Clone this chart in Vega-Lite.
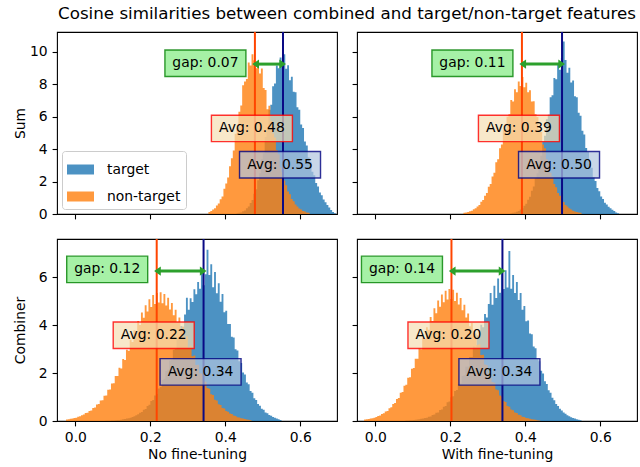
{
"$schema": "https://vega.github.io/schema/vega-lite/v6.json",
"padding": {"left": 12, "top": 5, "right": 0, "bottom": 5},
"config": {
 "font": "DejaVu Sans",
 "view": {"stroke": "#000000", "strokeWidth": 1.1},
 "axis": {"grid": false, "domain": false, "tickColor": "#000000", "tickSize": 4.9, "tickWidth": 1.1, "labelFontSize": 13.9, "labelColor": "#000000", "labelPadding": 4.9, "titleFontSize": 13.9, "titleFontWeight": "normal", "titleColor": "#000000", "titlePadding": 2, "labelFont": "DejaVu Sans", "titleFont": "DejaVu Sans", "labelOverlap": false, "labelBound": false, "labelFlush": false},
 "axisX": {"titlePadding": 3},
 "axisY": {"minExtent": 28},
 "text": {"font": "DejaVu Sans", "fontSize": 13.9, "color": "#000000"}
},
"title": {"text": "Cosine similarities between combined and target/non-target features", "fontSize": 16.7, "fontWeight": "normal", "font": "DejaVu Sans", "color": "#000000", "anchor": "middle", "frame": "bounds", "dx": 22, "offset": 8},
"datasets": {
"ann": [
 {"p":"tl","mn":0.479,"mt":0.554,"gap":"gap: 0.07","an":"Avg: 0.48","at":"Avg: 0.55"},
 {"p":"tr","mn":0.391,"mt":0.498,"gap":"gap: 0.11","an":"Avg: 0.39","at":"Avg: 0.50"},
 {"p":"bl","mn":0.217,"mt":0.342,"gap":"gap: 0.12","an":"Avg: 0.22","at":"Avg: 0.34"},
 {"p":"br","mn":0.203,"mt":0.339,"gap":"gap: 0.14","an":"Avg: 0.20","at":"Avg: 0.34"}
],
"tl_n": [
{"x":0.355,"y":0.13},{"x":0.36,"y":0.18},{"x":0.365,"y":0.28},{"x":0.37,"y":0.36},{"x":0.375,"y":0.53},{"x":0.38,"y":0.65},{"x":0.385,"y":0.91},{"x":0.39,"y":1.08},{"x":0.395,"y":1.56},{"x":0.4,"y":1.88},{"x":0.405,"y":2.25},{"x":0.41,"y":2.95},{"x":0.415,"y":3.44},{"x":0.42,"y":3.92},{"x":0.425,"y":4.95},{"x":0.43,"y":5.31},{"x":0.435,"y":6.31},{"x":0.44,"y":6.7},{"x":0.445,"y":7.94},{"x":0.45,"y":8.17},{"x":0.455,"y":8.33},{"x":0.46,"y":9.35},{"x":0.465,"y":9.17},{"x":0.47,"y":9.86},{"x":0.475,"y":9.48},{"x":0.48,"y":9.0},{"x":0.485,"y":9.44},{"x":0.49,"y":8.67},{"x":0.495,"y":8.98},{"x":0.5,"y":7.78},{"x":0.505,"y":7.65},{"x":0.51,"y":6.46},{"x":0.515,"y":6.68},{"x":0.52,"y":5.76},{"x":0.525,"y":4.96},{"x":0.53,"y":4.72},{"x":0.535,"y":3.93},{"x":0.54,"y":3.69},{"x":0.545,"y":2.87},{"x":0.55,"y":2.59},{"x":0.555,"y":2.07},{"x":0.56,"y":1.77},{"x":0.565,"y":1.39},{"x":0.57,"y":1.22},{"x":0.575,"y":0.93},{"x":0.58,"y":0.78},{"x":0.585,"y":0.58},{"x":0.59,"y":0.46},{"x":0.595,"y":0.34},{"x":0.6,"y":0.28},{"x":0.605,"y":0.19},{"x":0.61,"y":0.15},{"x":0.615,"y":0.1},{"x":0.62,"y":0.07},{"x":0.625,"y":0}
],
"tl_t": [
{"x":0.43,"y":0.04},{"x":0.435,"y":0.07},{"x":0.44,"y":0.1},{"x":0.445,"y":0.17},{"x":0.45,"y":0.22},{"x":0.455,"y":0.35},{"x":0.46,"y":0.46},{"x":0.465,"y":0.68},{"x":0.47,"y":0.87},{"x":0.475,"y":1.25},{"x":0.48,"y":1.53},{"x":0.485,"y":2.09},{"x":0.49,"y":2.52},{"x":0.495,"y":3.38},{"x":0.5,"y":3.75},{"x":0.505,"y":4.75},{"x":0.51,"y":5.22},{"x":0.515,"y":6.43},{"x":0.52,"y":6.74},{"x":0.525,"y":7.89},{"x":0.53,"y":8.05},{"x":0.535,"y":9.16},{"x":0.54,"y":8.99},{"x":0.545,"y":9.65},{"x":0.55,"y":9.11},{"x":0.555,"y":9.85},{"x":0.56,"y":8.97},{"x":0.565,"y":9.18},{"x":0.57,"y":8.25},{"x":0.575,"y":8.47},{"x":0.58,"y":7.55},{"x":0.585,"y":7.52},{"x":0.59,"y":6.58},{"x":0.595,"y":6.43},{"x":0.6,"y":5.53},{"x":0.605,"y":5.3},{"x":0.61,"y":4.48},{"x":0.615,"y":4.22},{"x":0.62,"y":3.49},{"x":0.625,"y":3.23},{"x":0.63,"y":2.6},{"x":0.635,"y":2.39},{"x":0.64,"y":1.91},{"x":0.645,"y":1.7},{"x":0.65,"y":1.33},{"x":0.655,"y":1.16},{"x":0.66,"y":0.89},{"x":0.665,"y":0.72},{"x":0.67,"y":0.55},{"x":0.675,"y":0.4},{"x":0.68,"y":0.25},{"x":0.685,"y":0.12},{"x":0.69,"y":0.04},{"x":0.695,"y":0}
],
"tr_n": [
{"x":0.235,"y":0.07},{"x":0.24,"y":0.09},{"x":0.245,"y":0.12},{"x":0.25,"y":0.17},{"x":0.255,"y":0.2},{"x":0.26,"y":0.29},{"x":0.265,"y":0.35},{"x":0.27,"y":0.47},{"x":0.275,"y":0.56},{"x":0.28,"y":0.76},{"x":0.285,"y":0.86},{"x":0.29,"y":1.13},{"x":0.295,"y":1.29},{"x":0.3,"y":1.68},{"x":0.305,"y":1.85},{"x":0.31,"y":2.32},{"x":0.315,"y":2.55},{"x":0.32,"y":3.19},{"x":0.325,"y":3.38},{"x":0.33,"y":4.06},{"x":0.335,"y":4.29},{"x":0.34,"y":5.16},{"x":0.345,"y":5.24},{"x":0.35,"y":6.0},{"x":0.355,"y":6.15},{"x":0.36,"y":7.03},{"x":0.365,"y":6.94},{"x":0.37,"y":7.7},{"x":0.375,"y":7.51},{"x":0.38,"y":8.18},{"x":0.385,"y":7.9},{"x":0.39,"y":8.45},{"x":0.395,"y":7.82},{"x":0.4,"y":8.1},{"x":0.405,"y":7.51},{"x":0.41,"y":7.63},{"x":0.415,"y":6.94},{"x":0.42,"y":6.96},{"x":0.425,"y":6.15},{"x":0.43,"y":5.99},{"x":0.435,"y":5.24},{"x":0.44,"y":5.06},{"x":0.445,"y":4.29},{"x":0.45,"y":4.06},{"x":0.455,"y":3.38},{"x":0.46,"y":3.13},{"x":0.465,"y":2.55},{"x":0.47,"y":2.32},{"x":0.475,"y":1.85},{"x":0.48,"y":1.65},{"x":0.485,"y":1.29},{"x":0.49,"y":1.13},{"x":0.495,"y":0.86},{"x":0.5,"y":0.74},{"x":0.505,"y":0.56},{"x":0.51,"y":0.46},{"x":0.515,"y":0.35},{"x":0.52,"y":0.28},{"x":0.525,"y":0.2},{"x":0.53,"y":0.16},{"x":0.535,"y":0.12},{"x":0.54,"y":0.09},{"x":0.545,"y":0.07},{"x":0.55,"y":0}
],
"tr_t": [
{"x":0.36,"y":0.05},{"x":0.365,"y":0.07},{"x":0.37,"y":0.1},{"x":0.375,"y":0.14},{"x":0.38,"y":0.18},{"x":0.385,"y":0.27},{"x":0.39,"y":0.35},{"x":0.395,"y":0.51},{"x":0.4,"y":0.63},{"x":0.405,"y":0.88},{"x":0.41,"y":1.06},{"x":0.415,"y":1.44},{"x":0.42,"y":1.69},{"x":0.425,"y":2.21},{"x":0.43,"y":2.52},{"x":0.435,"y":3.23},{"x":0.44,"y":3.59},{"x":0.445,"y":4.47},{"x":0.45,"y":4.83},{"x":0.455,"y":5.84},{"x":0.46,"y":6.12},{"x":0.465,"y":7.2},{"x":0.47,"y":7.33},{"x":0.475,"y":8.39},{"x":0.48,"y":8.31},{"x":0.485,"y":9.24},{"x":0.49,"y":8.9},{"x":0.495,"y":9.62},{"x":0.5,"y":10.65},{"x":0.505,"y":9.5},{"x":0.51,"y":8.72},{"x":0.515,"y":9.02},{"x":0.52,"y":8.12},{"x":0.525,"y":8.23},{"x":0.53,"y":7.26},{"x":0.535,"y":7.21},{"x":0.54,"y":6.24},{"x":0.545,"y":6.07},{"x":0.55,"y":5.14},{"x":0.555,"y":4.91},{"x":0.56,"y":4.07},{"x":0.565,"y":3.82},{"x":0.57,"y":3.11},{"x":0.575,"y":2.85},{"x":0.58,"y":2.27},{"x":0.585,"y":2.04},{"x":0.59,"y":1.6},{"x":0.595,"y":1.41},{"x":0.6,"y":1.08},{"x":0.605,"y":0.93},{"x":0.61,"y":0.7},{"x":0.615,"y":0.59},{"x":0.62,"y":0.44},{"x":0.625,"y":0.35},{"x":0.63,"y":0.26},{"x":0.635,"y":0.18},{"x":0.64,"y":0.1},{"x":0.645,"y":0.05},{"x":0.65,"y":0}
],
"bl_n": [
{"x":-0.025,"y":0.06},{"x":-0.02,"y":0.07},{"x":-0.015,"y":0.09},{"x":-0.01,"y":0.1},{"x":-0.005,"y":0.13},{"x":0.0,"y":0.14},{"x":0.005,"y":0.18},{"x":0.01,"y":0.2},{"x":0.015,"y":0.24},{"x":0.02,"y":0.27},{"x":0.025,"y":0.33},{"x":0.03,"y":0.34},{"x":0.035,"y":0.42},{"x":0.04,"y":0.44},{"x":0.045,"y":0.54},{"x":0.05,"y":0.56},{"x":0.055,"y":0.69},{"x":0.06,"y":0.71},{"x":0.065,"y":0.86},{"x":0.07,"y":0.87},{"x":0.075,"y":1.05},{"x":0.08,"y":1.07},{"x":0.085,"y":1.3},{"x":0.09,"y":1.32},{"x":0.095,"y":1.57},{"x":0.1,"y":1.58},{"x":0.105,"y":1.88},{"x":0.11,"y":1.88},{"x":0.115,"y":2.22},{"x":0.12,"y":2.19},{"x":0.125,"y":2.59},{"x":0.13,"y":2.55},{"x":0.135,"y":2.98},{"x":0.14,"y":2.93},{"x":0.145,"y":3.39},{"x":0.15,"y":3.3},{"x":0.155,"y":3.79},{"x":0.16,"y":3.67},{"x":0.165,"y":4.18},{"x":0.17,"y":4.01},{"x":0.175,"y":4.53},{"x":0.18,"y":4.31},{"x":0.185,"y":4.83},{"x":0.19,"y":4.57},{"x":0.195,"y":5.08},{"x":0.2,"y":4.76},{"x":0.205,"y":5.26},{"x":0.21,"y":4.89},{"x":0.215,"y":5.35},{"x":0.22,"y":4.95},{"x":0.225,"y":5.38},{"x":0.23,"y":4.92},{"x":0.235,"y":5.3},{"x":0.24,"y":4.82},{"x":0.245,"y":5.15},{"x":0.25,"y":4.66},{"x":0.255,"y":4.93},{"x":0.26,"y":4.42},{"x":0.265,"y":4.65},{"x":0.27,"y":4.13},{"x":0.275,"y":4.32},{"x":0.28,"y":3.8},{"x":0.285,"y":3.94},{"x":0.29,"y":3.44},{"x":0.295,"y":3.54},{"x":0.3,"y":3.07},{"x":0.305,"y":3.14},{"x":0.31,"y":2.7},{"x":0.315,"y":2.73},{"x":0.32,"y":2.34},{"x":0.325,"y":2.35},{"x":0.33,"y":1.99},{"x":0.335,"y":1.98},{"x":0.34,"y":1.67},{"x":0.345,"y":1.64},{"x":0.35,"y":1.38},{"x":0.355,"y":1.35},{"x":0.36,"y":1.12},{"x":0.365,"y":1.09},{"x":0.37,"y":0.89},{"x":0.375,"y":0.86},{"x":0.38,"y":0.7},{"x":0.385,"y":0.67},{"x":0.39,"y":0.54},{"x":0.395,"y":0.52},{"x":0.4,"y":0.42},{"x":0.405,"y":0.39},{"x":0.41,"y":0.31},{"x":0.415,"y":0.29},{"x":0.42,"y":0.23},{"x":0.425,"y":0.21},{"x":0.43,"y":0.16},{"x":0.435,"y":0.15},{"x":0.44,"y":0.12},{"x":0.445,"y":0.1},{"x":0.45,"y":0.08},{"x":0.455,"y":0.06},{"x":0.46,"y":0.05},{"x":0.465,"y":0.03},{"x":0.47,"y":0}
],
"bl_t": [
{"x":0.08,"y":0.01},{"x":0.085,"y":0.01},{"x":0.09,"y":0.01},{"x":0.095,"y":0.02},{"x":0.1,"y":0.02},{"x":0.105,"y":0.03},{"x":0.11,"y":0.04},{"x":0.115,"y":0.04},{"x":0.12,"y":0.05},{"x":0.125,"y":0.07},{"x":0.13,"y":0.08},{"x":0.135,"y":0.1},{"x":0.14,"y":0.12},{"x":0.145,"y":0.14},{"x":0.15,"y":0.17},{"x":0.155,"y":0.2},{"x":0.16,"y":0.24},{"x":0.165,"y":0.28},{"x":0.17,"y":0.34},{"x":0.175,"y":0.38},{"x":0.18,"y":0.47},{"x":0.185,"y":0.5},{"x":0.19,"y":0.63},{"x":0.195,"y":0.68},{"x":0.2,"y":0.83},{"x":0.205,"y":0.88},{"x":0.21,"y":1.07},{"x":0.215,"y":1.13},{"x":0.22,"y":1.36},{"x":0.225,"y":1.42},{"x":0.23,"y":1.71},{"x":0.235,"y":1.76},{"x":0.24,"y":2.09},{"x":0.245,"y":2.14},{"x":0.25,"y":2.53},{"x":0.255,"y":2.56},{"x":0.26,"y":2.98},{"x":0.265,"y":3.01},{"x":0.27,"y":3.47},{"x":0.275,"y":3.47},{"x":0.28,"y":3.97},{"x":0.285,"y":3.94},{"x":0.29,"y":4.45},{"x":0.295,"y":5.15},{"x":0.3,"y":4.65},{"x":0.305,"y":5.13},{"x":0.31,"y":4.97},{"x":0.315,"y":5.5},{"x":0.32,"y":5.29},{"x":0.325,"y":5.8},{"x":0.33,"y":5.52},{"x":0.335,"y":6.25},{"x":0.34,"y":5.67},{"x":0.345,"y":6.13},{"x":0.35,"y":7.15},{"x":0.355,"y":6.1},{"x":0.36,"y":6.55},{"x":0.365,"y":5.58},{"x":0.37,"y":6.22},{"x":0.375,"y":5.33},{"x":0.38,"y":5.75},{"x":0.385,"y":4.98},{"x":0.39,"y":5.3},{"x":0.395,"y":4.54},{"x":0.4,"y":4.6},{"x":0.405,"y":4.05},{"x":0.41,"y":4.05},{"x":0.415,"y":3.52},{"x":0.42,"y":3.49},{"x":0.425,"y":3.0},{"x":0.43,"y":2.94},{"x":0.435,"y":2.49},{"x":0.44,"y":2.42},{"x":0.445,"y":2.03},{"x":0.45,"y":1.94},{"x":0.455,"y":1.61},{"x":0.46,"y":1.53},{"x":0.465,"y":1.25},{"x":0.47,"y":1.18},{"x":0.475,"y":0.95},{"x":0.48,"y":0.88},{"x":0.485,"y":0.71},{"x":0.49,"y":0.64},{"x":0.495,"y":0.51},{"x":0.5,"y":0.47},{"x":0.505,"y":0.36},{"x":0.51,"y":0.32},{"x":0.515,"y":0.25},{"x":0.52,"y":0.22},{"x":0.525,"y":0.17},{"x":0.53,"y":0.14},{"x":0.535,"y":0.1},{"x":0.54,"y":0.07},{"x":0.545,"y":0.04},{"x":0.55,"y":0}
],
"br_n": [
{"x":-0.03,"y":0.06},{"x":-0.025,"y":0.07},{"x":-0.02,"y":0.08},{"x":-0.015,"y":0.1},{"x":-0.01,"y":0.12},{"x":-0.005,"y":0.14},{"x":0.0,"y":0.17},{"x":0.005,"y":0.21},{"x":0.01,"y":0.23},{"x":0.015,"y":0.29},{"x":0.02,"y":0.32},{"x":0.025,"y":0.4},{"x":0.03,"y":0.42},{"x":0.035,"y":0.53},{"x":0.04,"y":0.57},{"x":0.045,"y":0.71},{"x":0.05,"y":0.75},{"x":0.055,"y":0.92},{"x":0.06,"y":0.96},{"x":0.065,"y":1.18},{"x":0.07,"y":1.21},{"x":0.075,"y":1.47},{"x":0.08,"y":1.51},{"x":0.085,"y":1.81},{"x":0.09,"y":1.83},{"x":0.095,"y":2.18},{"x":0.1,"y":2.21},{"x":0.105,"y":2.6},{"x":0.11,"y":2.6},{"x":0.115,"y":3.04},{"x":0.12,"y":3.0},{"x":0.125,"y":3.47},{"x":0.13,"y":3.42},{"x":0.135,"y":3.91},{"x":0.14,"y":3.81},{"x":0.145,"y":4.34},{"x":0.15,"y":4.18},{"x":0.155,"y":4.71},{"x":0.16,"y":4.5},{"x":0.165,"y":5.03},{"x":0.17,"y":4.77},{"x":0.175,"y":5.28},{"x":0.18,"y":4.96},{"x":0.185,"y":5.44},{"x":0.19,"y":5.07},{"x":0.195,"y":5.51},{"x":0.2,"y":5.09},{"x":0.205,"y":5.48},{"x":0.21,"y":5.01},{"x":0.215,"y":5.36},{"x":0.22,"y":4.86},{"x":0.225,"y":5.14},{"x":0.23,"y":4.62},{"x":0.235,"y":4.85},{"x":0.24,"y":4.32},{"x":0.245,"y":4.49},{"x":0.25,"y":3.96},{"x":0.255,"y":4.09},{"x":0.26,"y":3.57},{"x":0.265,"y":3.65},{"x":0.27,"y":3.17},{"x":0.275,"y":3.21},{"x":0.28,"y":2.76},{"x":0.285,"y":2.77},{"x":0.29,"y":2.36},{"x":0.295,"y":2.34},{"x":0.3,"y":1.98},{"x":0.305,"y":1.96},{"x":0.31,"y":1.63},{"x":0.315,"y":1.6},{"x":0.32,"y":1.32},{"x":0.325,"y":1.28},{"x":0.33,"y":1.06},{"x":0.335,"y":1.02},{"x":0.34,"y":0.83},{"x":0.345,"y":0.79},{"x":0.35,"y":0.63},{"x":0.355,"y":0.6},{"x":0.36,"y":0.48},{"x":0.365,"y":0.45},{"x":0.37,"y":0.36},{"x":0.375,"y":0.33},{"x":0.38,"y":0.26},{"x":0.385,"y":0.24},{"x":0.39,"y":0.18},{"x":0.395,"y":0.17},{"x":0.4,"y":0.13},{"x":0.405,"y":0.11},{"x":0.41,"y":0.09},{"x":0.415,"y":0.07},{"x":0.42,"y":0.06},{"x":0.425,"y":0.05},{"x":0.43,"y":0.03},{"x":0.435,"y":0.02},{"x":0.44,"y":0}
],
"br_t": [
{"x":0.08,"y":0.02},{"x":0.085,"y":0.02},{"x":0.09,"y":0.03},{"x":0.095,"y":0.03},{"x":0.1,"y":0.04},{"x":0.105,"y":0.05},{"x":0.11,"y":0.06},{"x":0.115,"y":0.07},{"x":0.12,"y":0.09},{"x":0.125,"y":0.1},{"x":0.13,"y":0.13},{"x":0.135,"y":0.14},{"x":0.14,"y":0.18},{"x":0.145,"y":0.19},{"x":0.15,"y":0.25},{"x":0.155,"y":0.27},{"x":0.16,"y":0.34},{"x":0.165,"y":0.36},{"x":0.17,"y":0.46},{"x":0.175,"y":0.48},{"x":0.18,"y":0.59},{"x":0.185,"y":0.63},{"x":0.19,"y":0.78},{"x":0.195,"y":0.81},{"x":0.2,"y":0.99},{"x":0.205,"y":1.03},{"x":0.21,"y":1.25},{"x":0.215,"y":1.29},{"x":0.22,"y":1.55},{"x":0.225,"y":1.58},{"x":0.23,"y":1.88},{"x":0.235,"y":1.91},{"x":0.24,"y":2.27},{"x":0.245,"y":2.28},{"x":0.25,"y":2.67},{"x":0.255,"y":2.67},{"x":0.26,"y":3.11},{"x":0.265,"y":3.08},{"x":0.27,"y":3.57},{"x":0.275,"y":3.5},{"x":0.28,"y":4.02},{"x":0.285,"y":3.92},{"x":0.29,"y":4.47},{"x":0.295,"y":4.32},{"x":0.3,"y":4.89},{"x":0.305,"y":5.35},{"x":0.31,"y":4.85},{"x":0.315,"y":5.65},{"x":0.32,"y":5.14},{"x":0.325,"y":5.95},{"x":0.33,"y":5.36},{"x":0.335,"y":6.2},{"x":0.34,"y":5.51},{"x":0.345,"y":6.3},{"x":0.35,"y":5.57},{"x":0.355,"y":7.1},{"x":0.36,"y":5.52},{"x":0.365,"y":6.1},{"x":0.37,"y":5.35},{"x":0.375,"y":5.8},{"x":0.38,"y":5.05},{"x":0.385,"y":5.35},{"x":0.39,"y":4.65},{"x":0.395,"y":4.8},{"x":0.4,"y":4.17},{"x":0.405,"y":4.2},{"x":0.41,"y":3.65},{"x":0.415,"y":3.62},{"x":0.42,"y":3.11},{"x":0.425,"y":3.04},{"x":0.43,"y":2.59},{"x":0.435,"y":2.5},{"x":0.44,"y":2.1},{"x":0.445,"y":1.98},{"x":0.45,"y":1.66},{"x":0.455,"y":1.55},{"x":0.46,"y":1.28},{"x":0.465,"y":1.18},{"x":0.47,"y":0.97},{"x":0.475,"y":0.87},{"x":0.48,"y":0.71},{"x":0.485,"y":0.63},{"x":0.49,"y":0.51},{"x":0.495,"y":0.44},{"x":0.5,"y":0.36},{"x":0.505,"y":0.3},{"x":0.51,"y":0.24},{"x":0.515,"y":0.2},{"x":0.52,"y":0.16},{"x":0.525,"y":0.13},{"x":0.53,"y":0.1},{"x":0.535,"y":0.07},{"x":0.54,"y":0.05},{"x":0.545,"y":0.03},{"x":0.55,"y":0}
]
},
"columns": 2,
"spacing": {"row": 25, "column": 20},
"bounds": "flush",
"resolve": {"scale": {"x": "independent", "y": "independent", "color": "independent"}},
"concat": [
{
 "width": 280, "height": 182,
 "layer": [
  {"data": {"name": "tl_t"}, "mark": {"type": "area", "interpolate": "step-after", "opacity": 0.8},
   "encoding": {
    "x": {"field": "x", "type": "quantitative", "scale": {"domain": [-0.049, 0.698], "nice": false, "zero": false}, "axis": {"values": [0, 0.2, 0.4, 0.6], "labels": false, "title": null}},
    "y": {"field": "y", "type": "quantitative", "stack": null, "scale": {"domain": [0, 11.23], "nice": false}, "axis": {"values": [0, 2, 4, 6, 8, 10], "tickCount": 6, "format": "d", "title": "Sum", "labelOverlap": false}},
    "color": {"datum": "target", "type": "nominal", "scale": {"domain": ["target", "non-target"], "range": ["#1f77b4", "#ff7f0e"]},
      "legend": {"title": null, "orient": "bottom-left", "offset": 5, "fillColor": "rgba(255,255,255,0.8)", "strokeColor": "#cccccc", "cornerRadius": 3, "padding": 5, "symbolType": "M-1,-0.37H1V0.37H-1Z", "symbolSize": 729, "symbolOpacity": 0.8, "symbolStrokeWidth": 0, "labelFontSize": 13.9, "labelOffset": 13, "rowPadding": 6, "labelFont": "DejaVu Sans", "labelColor": "#000000"}}
   }},
  {"data": {"name": "tl_n"}, "mark": {"type": "area", "interpolate": "step-after", "opacity": 0.8},
   "encoding": {
    "x": {"field": "x", "type": "quantitative", "axis": {"values": [0, 0.2, 0.4, 0.6], "labels": false, "title": null}},
    "y": {"field": "y", "type": "quantitative", "stack": null, "axis": {"values": [0, 2, 4, 6, 8, 10], "tickCount": 6, "format": "d", "title": "Sum", "labelOverlap": false}},
    "color": {"datum": "non-target", "type": "nominal"}
   }},
  {"data": {"name": "ann"}, "transform": [{"filter": "datum.p == 'tl'"}], "mark": {"type": "rule", "color": "#ff4500", "strokeWidth": 2}, "encoding": {"x": {"field": "mn", "type": "quantitative"}}},
  {"data": {"name": "ann"}, "transform": [{"filter": "datum.p == 'tl'"}], "mark": {"type": "rule", "color": "#0a0a85", "strokeWidth": 2}, "encoding": {"x": {"field": "mt", "type": "quantitative"}}},
  {"data": {"name": "ann"}, "transform": [{"filter": "datum.p == 'tl'"}], "mark": {"type": "rule", "color": "#2ca02c", "strokeWidth": 3}, "encoding": {"x": {"field": "mn", "type": "quantitative"}, "x2": {"field": "mt"}, "y": {"datum": 9.25}}},
  {"data": {"name": "ann"}, "transform": [{"filter": "datum.p == 'tl'"}], "mark": {"type": "point", "shape": "M0,0L2,-1.4L2,1.4Z", "size": 45, "filled": true, "color": "#2ca02c", "opacity": 1, "xOffset": -2.6}, "encoding": {"x": {"field": "mn", "type": "quantitative"}, "y": {"datum": 9.25}}},
  {"data": {"name": "ann"}, "transform": [{"filter": "datum.p == 'tl'"}], "mark": {"type": "point", "shape": "M0,0L-2,-1.4L-2,1.4Z", "size": 45, "filled": true, "color": "#2ca02c", "opacity": 1, "xOffset": 3}, "encoding": {"x": {"field": "mt", "type": "quantitative"}, "y": {"datum": 9.25}}},
  {"data": {"name": "ann"}, "transform": [{"filter": "datum.p == 'tl'"}], "mark": {"type": "point", "shape": "M-1,-0.327H1V0.327H-1Z", "size": 6561, "filled": true, "fill": "#90ee90", "fillOpacity": 0.8, "stroke": "#008000", "strokeOpacity": 0.8, "strokeWidth": 1.4, "opacity": 1, "xOffset": -49.5}, "encoding": {"x": {"field": "mn", "type": "quantitative"}, "y": {"datum": 9.3}}},
  {"data": {"name": "ann"}, "transform": [{"filter": "datum.p == 'tl'"}], "mark": {"type": "text", "xOffset": -49.5, "baseline": "middle"}, "encoding": {"x": {"field": "mn", "type": "quantitative"}, "y": {"datum": 9.3}, "text": {"field": "gap"}}},
  {"data": {"name": "ann"}, "transform": [{"filter": "datum.p == 'tl'"}], "mark": {"type": "point", "shape": "M-1,-0.327H1V0.327H-1Z", "size": 6561, "filled": true, "fill": "#f5deb3", "fillOpacity": 0.7, "stroke": "#ff0000", "strokeOpacity": 0.8, "strokeWidth": 1.4, "opacity": 1, "xOffset": -3}, "encoding": {"x": {"field": "mn", "type": "quantitative"}, "y": {"datum": 5.28}}},
  {"data": {"name": "ann"}, "transform": [{"filter": "datum.p == 'tl'"}], "mark": {"type": "text", "xOffset": -3, "baseline": "middle"}, "encoding": {"x": {"field": "mn", "type": "quantitative"}, "y": {"datum": 5.28}, "text": {"field": "an"}}},
  {"data": {"name": "ann"}, "transform": [{"filter": "datum.p == 'tl'"}], "mark": {"type": "point", "shape": "M-1,-0.327H1V0.327H-1Z", "size": 6561, "filled": true, "fill": "#b0c4de", "fillOpacity": 0.7, "stroke": "#000080", "strokeOpacity": 0.8, "strokeWidth": 1.4, "opacity": 1, "xOffset": -3}, "encoding": {"x": {"field": "mt", "type": "quantitative"}, "y": {"datum": 3.04}}},
  {"data": {"name": "ann"}, "transform": [{"filter": "datum.p == 'tl'"}], "mark": {"type": "text", "xOffset": -3, "baseline": "middle"}, "encoding": {"x": {"field": "mt", "type": "quantitative"}, "y": {"datum": 3.04}, "text": {"field": "at"}}}
 ]
},
{
 "width": 280, "height": 182,
 "layer": [
  {"data": {"name": "tr_t"}, "mark": {"type": "area", "interpolate": "step-after", "opacity": 0.8, "color": "#1f77b4"},
   "encoding": {
    "x": {"field": "x", "type": "quantitative", "scale": {"domain": [-0.049, 0.698], "nice": false, "zero": false}, "axis": {"values": [0, 0.2, 0.4, 0.6], "labels": false, "title": null}},
    "y": {"field": "y", "type": "quantitative", "stack": null, "scale": {"domain": [0, 11.23], "nice": false}, "axis": {"values": [0, 2, 4, 6, 8, 10], "tickCount": 6, "labels": false, "title": null, "minExtent": 0}}
   }},
  {"data": {"name": "tr_n"}, "mark": {"type": "area", "interpolate": "step-after", "opacity": 0.8, "color": "#ff7f0e"},
   "encoding": {
    "x": {"field": "x", "type": "quantitative", "axis": {"values": [0, 0.2, 0.4, 0.6], "labels": false, "title": null}},
    "y": {"field": "y", "type": "quantitative", "stack": null, "axis": {"values": [0, 2, 4, 6, 8, 10], "tickCount": 6, "labels": false, "title": null, "minExtent": 0}}
   }},
  {"data": {"name": "ann"}, "transform": [{"filter": "datum.p == 'tr'"}], "mark": {"type": "rule", "color": "#ff4500", "strokeWidth": 2}, "encoding": {"x": {"field": "mn", "type": "quantitative"}}},
  {"data": {"name": "ann"}, "transform": [{"filter": "datum.p == 'tr'"}], "mark": {"type": "rule", "color": "#0a0a85", "strokeWidth": 2}, "encoding": {"x": {"field": "mt", "type": "quantitative"}}},
  {"data": {"name": "ann"}, "transform": [{"filter": "datum.p == 'tr'"}], "mark": {"type": "rule", "color": "#2ca02c", "strokeWidth": 3}, "encoding": {"x": {"field": "mn", "type": "quantitative"}, "x2": {"field": "mt"}, "y": {"datum": 9.25}}},
  {"data": {"name": "ann"}, "transform": [{"filter": "datum.p == 'tr'"}], "mark": {"type": "point", "shape": "M0,0L2,-1.4L2,1.4Z", "size": 45, "filled": true, "color": "#2ca02c", "opacity": 1, "xOffset": -2.6}, "encoding": {"x": {"field": "mn", "type": "quantitative"}, "y": {"datum": 9.25}}},
  {"data": {"name": "ann"}, "transform": [{"filter": "datum.p == 'tr'"}], "mark": {"type": "point", "shape": "M0,0L-2,-1.4L-2,1.4Z", "size": 45, "filled": true, "color": "#2ca02c", "opacity": 1, "xOffset": 3}, "encoding": {"x": {"field": "mt", "type": "quantitative"}, "y": {"datum": 9.25}}},
  {"data": {"name": "ann"}, "transform": [{"filter": "datum.p == 'tr'"}], "mark": {"type": "point", "shape": "M-1,-0.327H1V0.327H-1Z", "size": 6561, "filled": true, "fill": "#90ee90", "fillOpacity": 0.8, "stroke": "#008000", "strokeOpacity": 0.8, "strokeWidth": 1.4, "opacity": 1, "xOffset": -49.5}, "encoding": {"x": {"field": "mn", "type": "quantitative"}, "y": {"datum": 9.3}}},
  {"data": {"name": "ann"}, "transform": [{"filter": "datum.p == 'tr'"}], "mark": {"type": "text", "xOffset": -49.5, "baseline": "middle"}, "encoding": {"x": {"field": "mn", "type": "quantitative"}, "y": {"datum": 9.3}, "text": {"field": "gap"}}},
  {"data": {"name": "ann"}, "transform": [{"filter": "datum.p == 'tr'"}], "mark": {"type": "point", "shape": "M-1,-0.327H1V0.327H-1Z", "size": 6561, "filled": true, "fill": "#f5deb3", "fillOpacity": 0.7, "stroke": "#ff0000", "strokeOpacity": 0.8, "strokeWidth": 1.4, "opacity": 1, "xOffset": -3}, "encoding": {"x": {"field": "mn", "type": "quantitative"}, "y": {"datum": 5.28}}},
  {"data": {"name": "ann"}, "transform": [{"filter": "datum.p == 'tr'"}], "mark": {"type": "text", "xOffset": -3, "baseline": "middle"}, "encoding": {"x": {"field": "mn", "type": "quantitative"}, "y": {"datum": 5.28}, "text": {"field": "an"}}},
  {"data": {"name": "ann"}, "transform": [{"filter": "datum.p == 'tr'"}], "mark": {"type": "point", "shape": "M-1,-0.327H1V0.327H-1Z", "size": 6561, "filled": true, "fill": "#b0c4de", "fillOpacity": 0.7, "stroke": "#000080", "strokeOpacity": 0.8, "strokeWidth": 1.4, "opacity": 1, "xOffset": -3}, "encoding": {"x": {"field": "mt", "type": "quantitative"}, "y": {"datum": 3.04}}},
  {"data": {"name": "ann"}, "transform": [{"filter": "datum.p == 'tr'"}], "mark": {"type": "text", "xOffset": -3, "baseline": "middle"}, "encoding": {"x": {"field": "mt", "type": "quantitative"}, "y": {"datum": 3.04}, "text": {"field": "at"}}}
 ]
},
{
 "width": 280, "height": 182,
 "layer": [
  {"data": {"name": "bl_t"}, "mark": {"type": "area", "interpolate": "step-after", "opacity": 0.8, "color": "#1f77b4"},
   "encoding": {
    "x": {"field": "x", "type": "quantitative", "scale": {"domain": [-0.049, 0.698], "nice": false, "zero": false}, "axis": {"values": [0, 0.2, 0.4, 0.6], "format": ".1f", "title": "No fine-tuning"}},
    "y": {"field": "y", "type": "quantitative", "stack": null, "scale": {"domain": [0, 7.6], "nice": false}, "axis": {"values": [0, 2, 4, 6], "tickCount": 4, "format": "d", "title": "Combiner", "labelOverlap": false}}
   }},
  {"data": {"name": "bl_n"}, "mark": {"type": "area", "interpolate": "step-after", "opacity": 0.8, "color": "#ff7f0e"},
   "encoding": {
    "x": {"field": "x", "type": "quantitative", "axis": {"values": [0, 0.2, 0.4, 0.6], "format": ".1f", "title": "No fine-tuning"}},
    "y": {"field": "y", "type": "quantitative", "stack": null, "axis": {"values": [0, 2, 4, 6], "tickCount": 4, "format": "d", "title": "Combiner", "labelOverlap": false}}
   }},
  {"data": {"name": "ann"}, "transform": [{"filter": "datum.p == 'bl'"}], "mark": {"type": "rule", "color": "#ff4500", "strokeWidth": 2}, "encoding": {"x": {"field": "mn", "type": "quantitative"}}},
  {"data": {"name": "ann"}, "transform": [{"filter": "datum.p == 'bl'"}], "mark": {"type": "rule", "color": "#0a0a85", "strokeWidth": 2}, "encoding": {"x": {"field": "mt", "type": "quantitative"}}},
  {"data": {"name": "ann"}, "transform": [{"filter": "datum.p == 'bl'"}], "mark": {"type": "rule", "color": "#2ca02c", "strokeWidth": 3}, "encoding": {"x": {"field": "mn", "type": "quantitative"}, "x2": {"field": "mt"}, "y": {"datum": 6.26}}},
  {"data": {"name": "ann"}, "transform": [{"filter": "datum.p == 'bl'"}], "mark": {"type": "point", "shape": "M0,0L2,-1.4L2,1.4Z", "size": 45, "filled": true, "color": "#2ca02c", "opacity": 1, "xOffset": -2.6}, "encoding": {"x": {"field": "mn", "type": "quantitative"}, "y": {"datum": 6.26}}},
  {"data": {"name": "ann"}, "transform": [{"filter": "datum.p == 'bl'"}], "mark": {"type": "point", "shape": "M0,0L-2,-1.4L-2,1.4Z", "size": 45, "filled": true, "color": "#2ca02c", "opacity": 1, "xOffset": 3}, "encoding": {"x": {"field": "mt", "type": "quantitative"}, "y": {"datum": 6.26}}},
  {"data": {"name": "ann"}, "transform": [{"filter": "datum.p == 'bl'"}], "mark": {"type": "point", "shape": "M-1,-0.327H1V0.327H-1Z", "size": 6561, "filled": true, "fill": "#90ee90", "fillOpacity": 0.8, "stroke": "#008000", "strokeOpacity": 0.8, "strokeWidth": 1.4, "opacity": 1, "xOffset": -49.5}, "encoding": {"x": {"field": "mn", "type": "quantitative"}, "y": {"datum": 6.33}}},
  {"data": {"name": "ann"}, "transform": [{"filter": "datum.p == 'bl'"}], "mark": {"type": "text", "xOffset": -49.5, "baseline": "middle"}, "encoding": {"x": {"field": "mn", "type": "quantitative"}, "y": {"datum": 6.33}, "text": {"field": "gap"}}},
  {"data": {"name": "ann"}, "transform": [{"filter": "datum.p == 'bl'"}], "mark": {"type": "point", "shape": "M-1,-0.327H1V0.327H-1Z", "size": 6561, "filled": true, "fill": "#f5deb3", "fillOpacity": 0.7, "stroke": "#ff0000", "strokeOpacity": 0.8, "strokeWidth": 1.4, "opacity": 1, "xOffset": -3}, "encoding": {"x": {"field": "mn", "type": "quantitative"}, "y": {"datum": 3.58}}},
  {"data": {"name": "ann"}, "transform": [{"filter": "datum.p == 'bl'"}], "mark": {"type": "text", "xOffset": -3, "baseline": "middle"}, "encoding": {"x": {"field": "mn", "type": "quantitative"}, "y": {"datum": 3.58}, "text": {"field": "an"}}},
  {"data": {"name": "ann"}, "transform": [{"filter": "datum.p == 'bl'"}], "mark": {"type": "point", "shape": "M-1,-0.327H1V0.327H-1Z", "size": 6561, "filled": true, "fill": "#b0c4de", "fillOpacity": 0.7, "stroke": "#000080", "strokeOpacity": 0.8, "strokeWidth": 1.4, "opacity": 1, "xOffset": -3}, "encoding": {"x": {"field": "mt", "type": "quantitative"}, "y": {"datum": 2.05}}},
  {"data": {"name": "ann"}, "transform": [{"filter": "datum.p == 'bl'"}], "mark": {"type": "text", "xOffset": -3, "baseline": "middle"}, "encoding": {"x": {"field": "mt", "type": "quantitative"}, "y": {"datum": 2.05}, "text": {"field": "at"}}}
 ]
},
{
 "width": 280, "height": 182,
 "layer": [
  {"data": {"name": "br_t"}, "mark": {"type": "area", "interpolate": "step-after", "opacity": 0.8, "color": "#1f77b4"},
   "encoding": {
    "x": {"field": "x", "type": "quantitative", "scale": {"domain": [-0.049, 0.698], "nice": false, "zero": false}, "axis": {"values": [0, 0.2, 0.4, 0.6], "format": ".1f", "title": "With fine-tuning"}},
    "y": {"field": "y", "type": "quantitative", "stack": null, "scale": {"domain": [0, 7.6], "nice": false}, "axis": {"values": [0, 2, 4, 6], "tickCount": 4, "labels": false, "title": null, "minExtent": 0}}
   }},
  {"data": {"name": "br_n"}, "mark": {"type": "area", "interpolate": "step-after", "opacity": 0.8, "color": "#ff7f0e"},
   "encoding": {
    "x": {"field": "x", "type": "quantitative", "axis": {"values": [0, 0.2, 0.4, 0.6], "format": ".1f", "title": "With fine-tuning"}},
    "y": {"field": "y", "type": "quantitative", "stack": null, "axis": {"values": [0, 2, 4, 6], "tickCount": 4, "labels": false, "title": null, "minExtent": 0}}
   }},
  {"data": {"name": "ann"}, "transform": [{"filter": "datum.p == 'br'"}], "mark": {"type": "rule", "color": "#ff4500", "strokeWidth": 2}, "encoding": {"x": {"field": "mn", "type": "quantitative"}}},
  {"data": {"name": "ann"}, "transform": [{"filter": "datum.p == 'br'"}], "mark": {"type": "rule", "color": "#0a0a85", "strokeWidth": 2}, "encoding": {"x": {"field": "mt", "type": "quantitative"}}},
  {"data": {"name": "ann"}, "transform": [{"filter": "datum.p == 'br'"}], "mark": {"type": "rule", "color": "#2ca02c", "strokeWidth": 3}, "encoding": {"x": {"field": "mn", "type": "quantitative"}, "x2": {"field": "mt"}, "y": {"datum": 6.26}}},
  {"data": {"name": "ann"}, "transform": [{"filter": "datum.p == 'br'"}], "mark": {"type": "point", "shape": "M0,0L2,-1.4L2,1.4Z", "size": 45, "filled": true, "color": "#2ca02c", "opacity": 1, "xOffset": -2.6}, "encoding": {"x": {"field": "mn", "type": "quantitative"}, "y": {"datum": 6.26}}},
  {"data": {"name": "ann"}, "transform": [{"filter": "datum.p == 'br'"}], "mark": {"type": "point", "shape": "M0,0L-2,-1.4L-2,1.4Z", "size": 45, "filled": true, "color": "#2ca02c", "opacity": 1, "xOffset": 3}, "encoding": {"x": {"field": "mt", "type": "quantitative"}, "y": {"datum": 6.26}}},
  {"data": {"name": "ann"}, "transform": [{"filter": "datum.p == 'br'"}], "mark": {"type": "point", "shape": "M-1,-0.327H1V0.327H-1Z", "size": 6561, "filled": true, "fill": "#90ee90", "fillOpacity": 0.8, "stroke": "#008000", "strokeOpacity": 0.8, "strokeWidth": 1.4, "opacity": 1, "xOffset": -49.5}, "encoding": {"x": {"field": "mn", "type": "quantitative"}, "y": {"datum": 6.33}}},
  {"data": {"name": "ann"}, "transform": [{"filter": "datum.p == 'br'"}], "mark": {"type": "text", "xOffset": -49.5, "baseline": "middle"}, "encoding": {"x": {"field": "mn", "type": "quantitative"}, "y": {"datum": 6.33}, "text": {"field": "gap"}}},
  {"data": {"name": "ann"}, "transform": [{"filter": "datum.p == 'br'"}], "mark": {"type": "point", "shape": "M-1,-0.327H1V0.327H-1Z", "size": 6561, "filled": true, "fill": "#f5deb3", "fillOpacity": 0.7, "stroke": "#ff0000", "strokeOpacity": 0.8, "strokeWidth": 1.4, "opacity": 1, "xOffset": -3}, "encoding": {"x": {"field": "mn", "type": "quantitative"}, "y": {"datum": 3.58}}},
  {"data": {"name": "ann"}, "transform": [{"filter": "datum.p == 'br'"}], "mark": {"type": "text", "xOffset": -3, "baseline": "middle"}, "encoding": {"x": {"field": "mn", "type": "quantitative"}, "y": {"datum": 3.58}, "text": {"field": "an"}}},
  {"data": {"name": "ann"}, "transform": [{"filter": "datum.p == 'br'"}], "mark": {"type": "point", "shape": "M-1,-0.327H1V0.327H-1Z", "size": 6561, "filled": true, "fill": "#b0c4de", "fillOpacity": 0.7, "stroke": "#000080", "strokeOpacity": 0.8, "strokeWidth": 1.4, "opacity": 1, "xOffset": -3}, "encoding": {"x": {"field": "mt", "type": "quantitative"}, "y": {"datum": 2.05}}},
  {"data": {"name": "ann"}, "transform": [{"filter": "datum.p == 'br'"}], "mark": {"type": "text", "xOffset": -3, "baseline": "middle"}, "encoding": {"x": {"field": "mt", "type": "quantitative"}, "y": {"datum": 2.05}, "text": {"field": "at"}}}
 ]
}
]
}
